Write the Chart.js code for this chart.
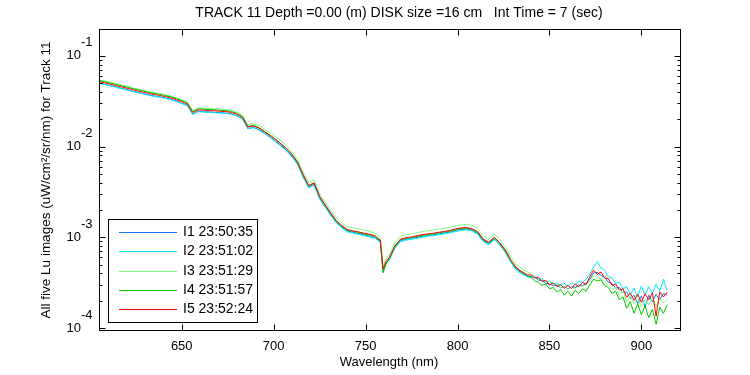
<!DOCTYPE html>
<html>
<head>
<meta charset="utf-8">
<script src="https://cdn.jsdelivr.net/npm/chart.js@4.4.0/dist/chart.umd.min.js"></script>
<style>
  html, body { margin: 0; padding: 0; background: #fff; }
</style>
</head>
<body>
<canvas id="lu" width="750" height="375"></canvas>
<script>
// wavelength (nm)
const wavelength = [
  605, 608, 611, 614, 617, 620, 623, 626, 629, 632,
  635, 638, 641, 644, 647, 650, 653, 656, 659, 662,
  665, 668, 671, 674, 677, 680, 683, 686, 689, 692,
  695, 698, 701, 704, 707, 710, 713, 716, 719, 722,
  725, 728, 731, 734, 737, 740, 743, 746, 749, 752,
  755, 758,
  759.5, 761, 763, 766, 769, 772, 775, 778, 781, 784,
  787, 790, 793, 796, 799, 802, 805, 808, 811, 814,
  817, 820, 823, 826, 829, 832, 835, 838,
  840, 842, 844, 846, 848, 850, 852, 854, 856, 858,
  860, 862, 864, 866, 868, 870, 872, 874, 876, 878,
  880, 882, 884, 886, 888, 890, 892, 894, 896, 898,
  900, 902, 904, 906, 908, 910, 912, 914
];

// Lu (uW/cm^2/sr/nm), five images
const lu1 = [
  0.0501, 0.0488, 0.0471, 0.0457, 0.0439, 0.0427, 0.0410, 0.0398, 0.0383, 0.0372,
  0.0361, 0.0354, 0.0343, 0.0332, 0.0318, 0.0301, 0.0285, 0.0226, 0.0246, 0.0242,
  0.0241, 0.0238, 0.0237, 0.0234, 0.0230, 0.0219, 0.0203, 0.0157, 0.0163, 0.0154,
  0.0141, 0.0128, 0.0115, 0.0103, 0.00912, 0.00786, 0.00645, 0.00468, 0.00357, 0.00384,
  0.00270, 0.00219, 0.00178, 0.00147, 0.00130, 0.00117, 0.00114, 0.00110, 0.00107, 0.00103,
  0.00100, 0.000892,
  0.000430, 0.000515, 0.000582, 0.000781, 0.000915, 0.000952, 0.000968, 0.000998, 0.00103, 0.00104,
  0.00107, 0.00109, 0.00112, 0.00114, 0.00119, 0.00122, 0.00123, 0.00119, 0.00110, 0.000918,
  0.000846, 0.000962, 0.000835, 0.000696, 0.000540, 0.000444, 0.000401, 0.000370,
  3.70e-4, 3.62e-4, 3.38e-4, 3.30e-4, 3.12e-4, 3.05e-4, 2.92e-4, 2.95e-4, 2.78e-4, 2.88e-4,
  2.70e-4, 2.86e-4, 2.80e-4, 2.98e-4, 2.95e-4, 3.10e-4, 3.45e-4, 4.05e-4, 4.10e-4, 3.80e-4,
  3.62e-4, 3.20e-4, 3.10e-4, 2.75e-4, 2.80e-4, 2.45e-4, 2.50e-4, 2.10e-4, 2.30e-4, 1.85e-4,
  2.25e-4, 1.70e-4, 2.30e-4, 1.95e-4, 2.35e-4, 2.05e-4, 2.40e-4, 2.30e-4
];
const lu2 = [
  0.0498, 0.0484, 0.0468, 0.0452, 0.0436, 0.0422, 0.0407, 0.0393, 0.0381, 0.0368,
  0.0358, 0.0350, 0.0340, 0.0329, 0.0314, 0.0299, 0.0282, 0.0228, 0.0242, 0.0241,
  0.0238, 0.0236, 0.0234, 0.0232, 0.0227, 0.0218, 0.0200, 0.0158, 0.0161, 0.0152,
  0.0139, 0.0126, 0.0113, 0.0101, 0.00894, 0.00769, 0.00633, 0.00461, 0.00352, 0.00372,
  0.00265, 0.00214, 0.00175, 0.00144, 0.00127, 0.00115, 0.00111, 0.00108, 0.00104, 0.00101,
  0.000978, 0.000877,
  0.000425, 0.000507, 0.000566, 0.000762, 0.000896, 0.000928, 0.000951, 0.000975, 0.00100, 0.00103,
  0.00104, 0.00107, 0.00109, 0.00112, 0.00116, 0.00119, 0.00121, 0.00117, 0.00108, 0.000895,
  0.000828, 0.000945, 0.000815, 0.000680, 0.000530, 0.000436, 0.000395, 0.000366,
  3.60e-4, 3.75e-4, 3.45e-4, 3.50e-4, 3.20e-4, 3.30e-4, 3.05e-4, 3.15e-4, 2.95e-4, 3.10e-4,
  2.90e-4, 3.15e-4, 3.00e-4, 3.25e-4, 3.20e-4, 3.45e-4, 3.95e-4, 4.70e-4, 5.40e-4, 4.60e-4,
  4.30e-4, 3.70e-4, 3.55e-4, 3.10e-4, 3.20e-4, 2.70e-4, 2.85e-4, 2.35e-4, 2.75e-4, 2.20e-4,
  2.90e-4, 2.30e-4, 2.85e-4, 2.40e-4, 3.05e-4, 2.55e-4, 3.45e-4, 2.60e-4
];
const lu3 = [
  0.0542, 0.0531, 0.0514, 0.0497, 0.0478, 0.0464, 0.0446, 0.0432, 0.0418, 0.0405,
  0.0393, 0.0385, 0.0373, 0.0362, 0.0345, 0.0330, 0.0311, 0.0250, 0.0268, 0.0266,
  0.0263, 0.0261, 0.0259, 0.0256, 0.0252, 0.0241, 0.0223, 0.0175, 0.0180, 0.0171,
  0.0156, 0.0142, 0.0129, 0.0115, 0.0102, 0.00876, 0.00721, 0.00526, 0.00398, 0.00430,
  0.00302, 0.00244, 0.00199, 0.00164, 0.00145, 0.00131, 0.00127, 0.00124, 0.00120, 0.00117,
  0.00112, 0.00101,
  0.000470, 0.000572, 0.000648, 0.000880, 0.00103, 0.00107, 0.00109, 0.00112, 0.00116, 0.00118,
  0.00120, 0.00123, 0.00126, 0.00129, 0.00134, 0.00137, 0.00139, 0.00135, 0.00125, 0.00104,
  0.000955, 0.00109, 0.000945, 0.000785, 0.000610, 0.000500, 0.000450, 0.000415,
  3.95e-4, 3.70e-4, 3.55e-4, 3.45e-4, 3.20e-4, 3.25e-4, 2.95e-4, 3.05e-4, 2.80e-4, 2.90e-4,
  2.65e-4, 2.85e-4, 2.70e-4, 2.95e-4, 2.85e-4, 3.00e-4, 3.30e-4, 3.75e-4, 3.65e-4, 3.50e-4,
  3.20e-4, 2.95e-4, 2.70e-4, 2.80e-4, 2.30e-4, 2.55e-4, 1.95e-4, 2.25e-4, 1.85e-4, 2.15e-4,
  1.70e-4, 2.05e-4, 1.80e-4, 2.20e-4, 1.75e-4, 2.10e-4, 1.90e-4, 2.05e-4
];
const lu4 = [
  0.0534, 0.0521, 0.0503, 0.0487, 0.0469, 0.0455, 0.0438, 0.0424, 0.0410, 0.0397,
  0.0386, 0.0377, 0.0366, 0.0354, 0.0338, 0.0322, 0.0303, 0.0242, 0.0261, 0.0259,
  0.0256, 0.0254, 0.0251, 0.0249, 0.0244, 0.0233, 0.0214, 0.0167, 0.0172, 0.0162,
  0.0147, 0.0134, 0.0120, 0.0107, 0.00950, 0.00816, 0.00670, 0.00487, 0.00369, 0.00396,
  0.00280, 0.00226, 0.00184, 0.00151, 0.00133, 0.00120, 0.00116, 0.00113, 0.00109, 0.00106,
  0.00102, 0.000910,
  0.000405, 0.000500, 0.000585, 0.000795, 0.000940, 0.000972, 0.000995, 0.00102, 0.00105, 0.00107,
  0.00109, 0.00112, 0.00114, 0.00117, 0.00122, 0.00125, 0.00126, 0.00122, 0.00113, 0.000940,
  0.000866, 0.000985, 0.000858, 0.000712, 0.000553, 0.000455, 0.000410, 0.000378,
  3.60e-4, 3.30e-4, 3.20e-4, 2.95e-4, 3.05e-4, 2.70e-4, 2.80e-4, 2.50e-4, 2.65e-4, 2.30e-4,
  2.55e-4, 2.25e-4, 2.60e-4, 2.40e-4, 2.70e-4, 2.55e-4, 3.00e-4, 3.45e-4, 3.30e-4, 3.40e-4,
  2.95e-4, 2.80e-4, 2.40e-4, 2.55e-4, 2.05e-4, 2.20e-4, 1.65e-4, 1.95e-4, 1.45e-4, 1.85e-4,
  1.40e-4, 1.75e-4, 1.30e-4, 1.60e-4, 1.10e-4, 1.70e-4, 1.45e-4, 1.80e-4
];
const lu5 = [
  0.0519, 0.0505, 0.0489, 0.0472, 0.0456, 0.0441, 0.0426, 0.0411, 0.0398, 0.0385,
  0.0375, 0.0366, 0.0356, 0.0344, 0.0329, 0.0313, 0.0295, 0.0237, 0.0254, 0.0252,
  0.0249, 0.0248, 0.0245, 0.0243, 0.0238, 0.0228, 0.0210, 0.0164, 0.0169, 0.0160,
  0.0146, 0.0133, 0.0120, 0.0107, 0.00951, 0.00818, 0.00673, 0.00490, 0.00372, 0.00398,
  0.00282, 0.00228, 0.00186, 0.00153, 0.00135, 0.00122, 0.00118, 0.00115, 0.00111, 0.00108,
  0.00104, 0.000933,
  0.000447, 0.000537, 0.000603, 0.000813, 0.000955, 0.000989, 0.00101, 0.00104, 0.00107, 0.00109,
  0.00111, 0.00114, 0.00116, 0.00119, 0.00124, 0.00127, 0.00128, 0.00124, 0.00115, 0.000955,
  0.000881, 0.00100, 0.000871, 0.000724, 0.000562, 0.000462, 0.000417, 0.000385,
  3.85e-4, 3.55e-4, 3.62e-4, 3.28e-4, 3.36e-4, 2.98e-4, 3.15e-4, 2.86e-4, 3.02e-4, 2.74e-4,
  2.95e-4, 2.72e-4, 3.05e-4, 2.85e-4, 3.18e-4, 3.02e-4, 3.70e-4, 4.35e-4, 3.90e-4, 4.15e-4,
  3.55e-4, 3.52e-4, 2.95e-4, 3.05e-4, 2.62e-4, 2.70e-4, 2.18e-4, 2.42e-4, 2.02e-4, 2.35e-4,
  1.92e-4, 2.38e-4, 2.05e-4, 2.45e-4, 1.35e-4, 2.50e-4, 2.20e-4, 2.48e-4
];

const seriesNames = ['I1 23:50:35', 'I2 23:51:02', 'I3 23:51:29', 'I4 23:51:57', 'I5 23:52:24'];
const seriesValues = [lu1, lu2, lu3, lu4, lu5];
const seriesColors = ['rgb(20,120,235)', 'rgb(0,235,250)', 'rgb(128,255,128)', 'rgb(0,200,0)', 'rgb(255,0,0)'];

const xTicks = [650, 700, 750, 800, 850, 900];
const yDecades = [1e-4, 1e-3, 1e-2, 1e-1];
const yExponents = ['-4', '-3', '-2', '-1'];

const titleText = 'TRACK 11 Depth =0.00 (m) DISK size =16 cm   Int Time = 7 (sec)';
const xTitle = 'Wavelength (nm)';
const yTitle = 'All five Lu images (uW/cm\u00B2/sr/nm) for Track 11';

const FAMILY = '"Liberation Sans", Arial, Helvetica, sans-serif';

const matlabAxes = {
  id: 'matlabAxes',
  afterDraw(chart) {
    const { ctx, chartArea: a, scales: { x, y } } = chart;
    ctx.save();
    ctx.strokeStyle = '#000';
    ctx.lineWidth = 1;
    const L = Math.round(a.left) + 0.5, R = Math.round(a.right) + 0.5;
    const T = Math.round(a.top) + 0.5, B = Math.round(a.bottom) + 0.5;
    ctx.strokeRect(L, T, R - L, B - T);

    ctx.beginPath();
    xTicks.forEach(v => {
      const px = Math.round(x.getPixelForValue(v)) + 0.5;
      ctx.moveTo(px, B); ctx.lineTo(px, B - 6);
      ctx.moveTo(px, T); ctx.lineTo(px, T + 6);
    });
    yDecades.forEach(d => {
      for (let m = 1; m <= 9; m++) {
        const v = d * m;
        if (v < y.min || v > y.max) continue;
        const py = Math.round(y.getPixelForValue(v)) + 0.5;
        const len = m === 1 ? 6 : 3;
        ctx.moveTo(L, py); ctx.lineTo(L + len, py);
        ctx.moveTo(R, py); ctx.lineTo(R - len, py);
      }
    });
    ctx.stroke();

    ctx.fillStyle = '#000';
    ctx.font = '13px ' + FAMILY;
    ctx.textBaseline = 'middle';
    yDecades.forEach((d, i) => {
      const py = y.getPixelForValue(d);
      ctx.textAlign = 'right';
      ctx.fillText('10', 81, py);
      ctx.textAlign = 'left';
      ctx.fillText(yExponents[i], 81, py - 13);
    });

    ctx.textAlign = 'center';
    ctx.fillText(xTitle, 389, 362);
    ctx.font = '14px ' + FAMILY;
    ctx.fillText(titleText, 399, 13);
    ctx.save();
    ctx.font = '13.5px ' + FAMILY;
    ctx.translate(46, 180);
    ctx.rotate(-Math.PI / 2);
    ctx.fillText(yTitle, 0, 0);
    ctx.restore();

    // legend box
    ctx.fillStyle = '#fff';
    ctx.fillRect(108, 219, 149, 103);
    ctx.strokeRect(108.5, 219.5, 149, 103);
    ctx.font = '14px ' + FAMILY;
    chart.data.datasets.forEach((ds, i) => {
      const ly = Math.round(232 + i * 19.3) + 0.5;
      ctx.strokeStyle = ds.borderColor;
      ctx.beginPath();
      ctx.moveTo(119, ly); ctx.lineTo(177, ly);
      ctx.stroke();
      ctx.fillStyle = '#000';
      ctx.textAlign = 'left';
      ctx.fillText(ds.label, 183, ly);
    });
    ctx.restore();
  }
};

new Chart(document.getElementById('lu'), {
  type: 'line',
  data: {
    datasets: seriesValues.map((vals, i) => ({
      label: seriesNames[i],
      data: wavelength.map((w, k) => ({ x: w, y: vals[k] })),
      borderColor: seriesColors[i],
      borderWidth: 1,
      pointRadius: 0,
      tension: 0,
      fill: false,
      order: seriesValues.length - i
    }))
  },
  options: {
    responsive: false,
    animation: false,
    events: [],
    layout: { padding: { top: 29, right: 70, left: 0, bottom: 0 } },
    plugins: { legend: { display: false }, tooltip: { enabled: false }, title: { display: false } },
    scales: {
      x: {
        type: 'linear',
        min: 605,
        max: 921,
        grid: { display: false, drawTicks: false },
        border: { display: false },
        ticks: { font: { family: FAMILY, size: 13 }, color: '#000', padding: 9, maxRotation: 0 },
        afterBuildTicks: s => { s.ticks = xTicks.map(v => ({ value: v })); },
        afterFit: s => { s.height = 45; }
      },
      y: {
        type: 'logarithmic',
        min: 0.95e-4,
        max: 0.198,
        grid: { display: false, drawTicks: false },
        border: { display: false },
        ticks: { display: false },
        afterFit: s => { s.width = 99; }
      }
    }
  },
  plugins: [matlabAxes]
});
</script>
</body>
</html>
